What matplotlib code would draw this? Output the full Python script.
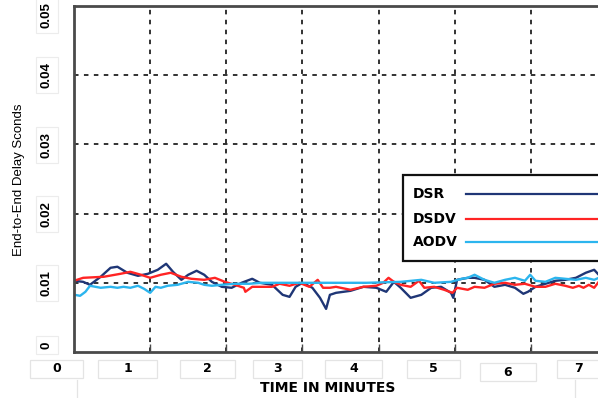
import matplotlib as mpl
mpl.use('Agg')
from matplotlib import pyplot as plt
from matplotlib.patches import Rectangle
from matplotlib.lines import Line2D

plt.rcParams['font.family'] = ['Liberation Sans', 'DejaVu Sans']

# time in minutes, delay in seconds
dsr_t = [0, 0.12, 0.21, 0.35, 0.48, 0.57, 0.70, 0.84, 0.97, 1.10, 1.21, 1.30, 1.41, 1.50,
         1.61, 1.71, 1.81, 1.94, 2.07, 2.20, 2.34, 2.44, 2.60, 2.74, 2.83, 2.91, 3.00, 3.13,
         3.23, 3.31, 3.36, 3.44, 3.63, 3.80, 3.97, 4.10, 4.20, 4.29, 4.42, 4.56, 4.69, 4.82,
         4.95, 4.98, 5.03, 5.17, 5.26, 5.39, 5.52, 5.66, 5.79, 5.90, 5.96, 6.06, 6.19, 6.32,
         6.45, 6.59, 6.72, 6.83, 6.89, 6.96]
dsr_v = [0.01029, 0.01014, 0.00971, 0.01087, 0.01217, 0.01232, 0.01145, 0.01101, 0.01130,
         0.01188, 0.01275, 0.01159, 0.01043, 0.01116, 0.01174, 0.01116, 0.01014, 0.00942,
         0.00928, 0.01000, 0.01058, 0.01000, 0.00971, 0.00826, 0.00797, 0.00942, 0.01000,
         0.00928, 0.00783, 0.00623, 0.00826, 0.00855, 0.00884, 0.00942, 0.00928, 0.00870,
         0.01014, 0.00928, 0.00783, 0.00826, 0.00928, 0.00942, 0.00855, 0.00783, 0.01043,
         0.01072, 0.01072, 0.01043, 0.00942, 0.00971, 0.00928, 0.00841, 0.00870, 0.00942,
         0.00986, 0.01029, 0.01043, 0.01072, 0.01145, 0.01188, 0.01116, 0.01087]

dsdv_t = [0, 0.12, 0.39, 0.61, 0.74, 0.88, 1.00, 1.14, 1.27, 1.41, 1.54, 1.71, 1.85, 1.98,
          2.11, 2.23, 2.25, 2.34, 2.47, 2.60, 2.70, 2.83, 2.96, 3.09, 3.20, 3.27, 3.36, 3.44,
          3.63, 3.80, 3.97, 4.06, 4.13, 4.20, 4.29, 4.42, 4.53, 4.60, 4.73, 4.86, 4.97, 5.03,
          5.17, 5.26, 5.39, 5.52, 5.66, 5.79, 5.92, 6.06, 6.19, 6.32, 6.45, 6.55, 6.63, 6.69,
          6.76, 6.83, 6.89, 6.96]
dsdv_v = [0.01029, 0.01072, 0.01087, 0.01130, 0.01159, 0.01116, 0.01072, 0.01116, 0.01145,
          0.01087, 0.01058, 0.01043, 0.01072, 0.01014, 0.00971, 0.00928, 0.00870, 0.00942,
          0.00942, 0.00942, 0.00986, 0.00957, 0.01000, 0.00942, 0.01043, 0.00928, 0.00928,
          0.00942, 0.00899, 0.00942, 0.00957, 0.01000, 0.01072, 0.01014, 0.00971, 0.00942,
          0.01029, 0.00928, 0.00942, 0.00899, 0.00855, 0.00928, 0.00899, 0.00942, 0.00928,
          0.00986, 0.01000, 0.00971, 0.00986, 0.00942, 0.00942, 0.00986, 0.00957, 0.00928,
          0.00957, 0.00928, 0.00971, 0.00928, 0.01014, 0.01014]

aodv_t = [0.01, 0.08, 0.15, 0.21, 0.35, 0.48, 0.57, 0.65, 0.74, 0.84, 0.92, 1.00, 1.07, 1.14,
          1.23, 1.36, 1.50, 1.63, 1.71, 1.81, 1.94, 2.11, 2.30, 2.47, 2.64, 2.83, 3.00, 3.23,
          3.44, 3.84, 4.29, 4.56, 4.73, 4.95, 5.09, 5.17, 5.26, 5.39, 5.52, 5.66, 5.79, 5.92,
          5.99, 6.06, 6.19, 6.32, 6.45, 6.59, 6.72, 6.83, 6.89, 6.96]
aodv_v = [0.00826, 0.00812, 0.00870, 0.00957, 0.00928, 0.00942, 0.00928, 0.00942, 0.00928,
          0.00957, 0.00913, 0.00855, 0.00942, 0.00928, 0.00957, 0.00971, 0.01014, 0.01000,
          0.00971, 0.00957, 0.00971, 0.00986, 0.00986, 0.01000, 0.01000, 0.01000, 0.01000,
          0.01000, 0.01000, 0.01000, 0.01014, 0.01043, 0.01000, 0.01014, 0.01058, 0.01072,
          0.01116, 0.01043, 0.01000, 0.01043, 0.01072, 0.01029, 0.01116, 0.01029, 0.01014,
          0.01072, 0.01058, 0.01043, 0.01072, 0.01043, 0.01072, 0.01058]

series_names = ['DSR', 'DSDV', 'AODV']
series_colors = ['#1f3676', '#ff2424', '#2cb5ee']
x_labels = ['0', '1', '2', '3', '4', '5', '6', '7']
y_labels = ['0', '0.01', '0.02', '0.03', '0.04', '0.05']
y_values = [0, 0.01, 0.02, 0.03, 0.04, 0.05]

W, H = 598, 398


def fx(px):
  return px / W


def fy(py):
  return 1 - py / H


fig = plt.figure(figsize=(W / 100, H / 100), dpi=100)
ax = fig.add_axes([fx(74), fy(352), (W - 74) / W + 0.01, 346 / H])
ax.set_xlim(0, (W - 74) / 75.3)
ax.set_ylim(0, 0.05)

for t, v, c in zip([dsr_t, dsdv_t, aodv_t], [dsr_v, dsdv_v, aodv_v], series_colors):
  ax.plot(t, v, color=c, lw=1.7)

# dashed grid
for gx in range(1, 7):
  ax.axvline(gx, color='#222222', lw=1.3, ls=(0, (2.5, 3)), zorder=0)
for gy in y_values[1:-1]:
  ax.axhline(gy, color='#222222', lw=1.3, ls=(0, (2.5, 3)), zorder=0)

for s in ax.spines.values():
  s.set_color('#4a4a4a')
  s.set_linewidth(2)

ax.set_yticks([])
ax.set_xticks(range(1, 7))
ax.set_xticklabels([])
ax.tick_params(axis='x', direction='in', length=6, width=1, color='#4a4a4a')

# boxed x tick labels, as in the reference
faint = '#e4e4e4'
x_boxes = [(30, 83, 360), (98, 157, 360), (180, 235, 360), (253, 302, 360),
           (325, 382, 360), (407, 460, 360), (480, 536, 363), (557, 600, 360)]
for lab, (x0, x1, y0) in zip(x_labels, x_boxes):
  fig.add_artist(Rectangle((fx(x0), fy(y0 + 18)), (x1 - x0) / W, 18 / H,
                           transform=fig.transFigure, fc='white', ec=faint, lw=0.9))
  fig.text(fx((x0 + x1) / 2), fy(y0 + 9), lab, ha='center', va='center', fontsize=9,
           fontweight='bold', family='DejaVu Sans')
for px in [77, 575]:
  fig.add_artist(Line2D([fx(px), fx(px)], [0, fy(380)], transform=fig.transFigure,
                        color=faint, lw=0.9))

y_label_py = [345, 283, 214, 145, 75, 15]
for lab, py in zip(y_labels, y_label_py):
  fig.text(fx(47), fy(py), lab, ha='center', va='center', rotation=90,
           fontsize=9.5, fontweight='bold', fontstretch='condensed',
           bbox=dict(boxstyle='square,pad=0.4', fc='white', ec='#ececec', lw=0.8))

fig.text(fx(328), fy(388), 'TIME IN MINUTES', ha='center', va='center',
         fontsize=10, fontweight='bold', family='DejaVu Sans')
fig.text(fx(19), fy(180), 'End-to-End Delay Sconds', ha='center', va='center',
         rotation=90, fontsize=9.5)

# legend: left-aligned names, lines starting in one column
fig.add_artist(Rectangle((fx(403), fy(261)), 200 / W, 86 / H, transform=fig.transFigure,
                         fc='white', ec='#111111', lw=1.6, zorder=5))
for name, c, py in zip(series_names, series_colors, [194, 219, 242]):
  fig.text(fx(413), fy(py), name, ha='left', va='center', fontsize=10,
           fontweight='bold', family='DejaVu Sans', zorder=6)
  fig.add_artist(Line2D([fx(466), fx(600)], [fy(py), fy(py)], transform=fig.transFigure,
                        color=c, lw=1.6, zorder=6))

fig.savefig('out.png', dpi=100)
